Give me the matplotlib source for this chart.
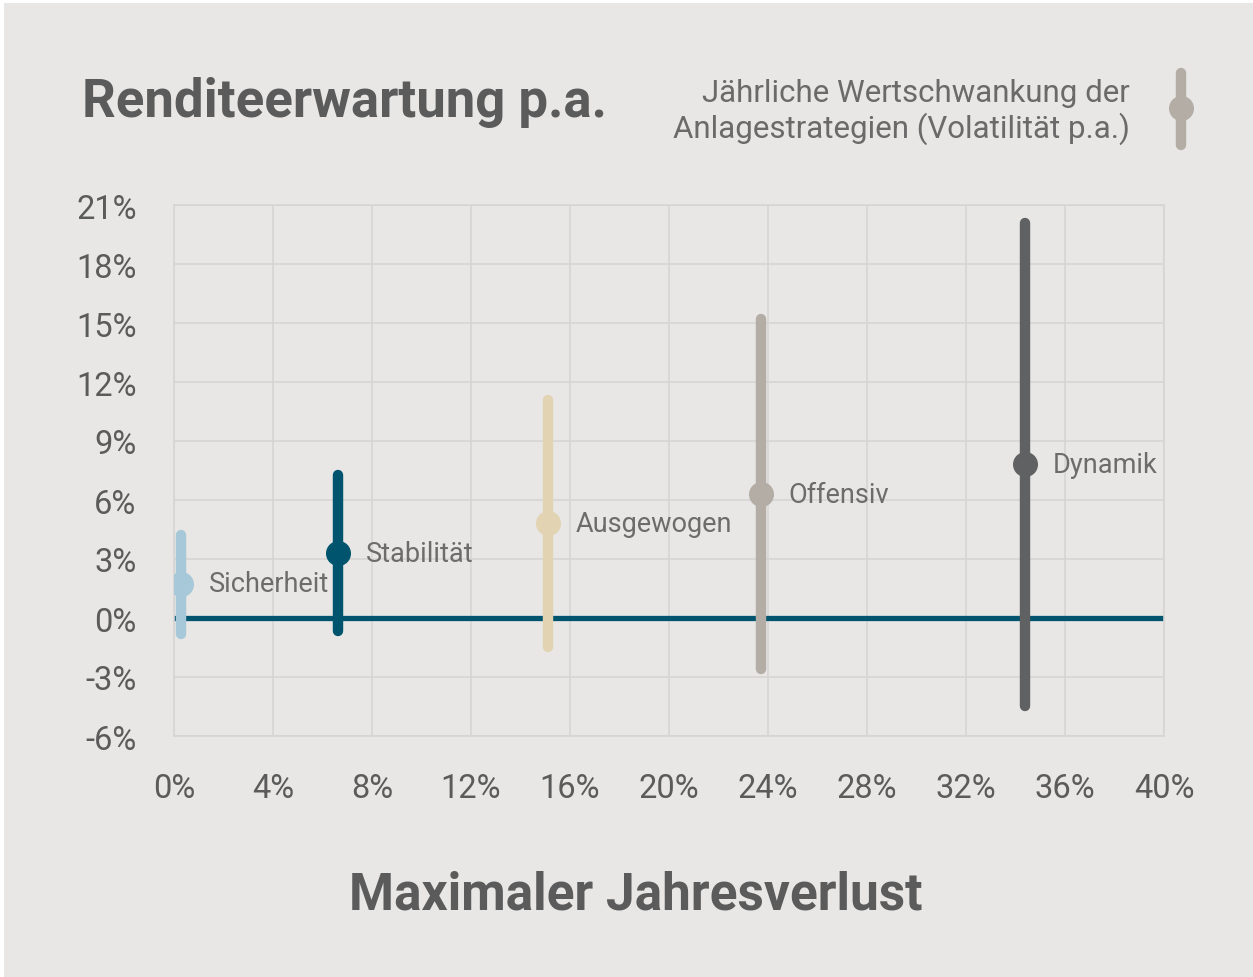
import matplotlib.pyplot as plt
from matplotlib.lines import Line2D
from matplotlib.patches import Rectangle
from matplotlib.ticker import FuncFormatter

# Daten
strategien = ['Sicherheit', 'Stabilität', 'Ausgewogen', 'Offensiv', 'Dynamik']
max_verlust = [0.28, 6.63, 15.1, 23.72, 34.39]      # x [%]
rendite = [1.73, 3.30, 4.83, 6.30, 7.83]             # y [%]
rendite_min = [-0.81, -0.66, -1.47, -2.59, -4.47]
rendite_max = [4.22, 7.27, 11.08, 15.19, 20.08]
farben = ['#a7c8d8', '#00546e', '#e2d4b3', '#b3ada6', '#5f6163']

x_ticks = list(range(0, 41, 4))
y_ticks = list(range(-6, 22, 3))

bg = '#e8e7e5'
grid_col = '#d6d5d3'
txt = '#5b5b5c'

plt.rcParams['font.family'] = ['Roboto', 'DejaVu Sans']

fig = plt.figure(figsize=(12.53, 9.78), dpi=100)
fig.patch.set_facecolor('white')
fig.add_artist(Rectangle((4 / 1253, 0), 1, 1 - 4 / 978, transform=fig.transFigure,
                         facecolor=bg, edgecolor='none', zorder=-10))

ax = fig.add_axes([174 / 1253, 1 - 737 / 978, 990 / 1253, 531 / 978])
ax.set_facecolor(bg)
ax.set_xlim(0, 40)
ax.set_ylim(-6, 21)
ax.set_xticks(x_ticks)
ax.set_yticks(y_ticks)
ax.xaxis.set_major_formatter(FuncFormatter(lambda v, p: f'{v:.0f}%'))
ax.yaxis.set_major_formatter(FuncFormatter(lambda v, p: f'{v:.0f}%'))
ax.grid(True, color=grid_col, lw=1.2)
ax.set_axisbelow(True)
for s in ax.spines.values():
    s.set_color(grid_col)
    s.set_linewidth(1.2)
ax.tick_params(length=0, labelsize=23.5, labelcolor=txt)
ax.tick_params(axis='y', pad=27)
ax.tick_params(axis='x', pad=26)

# Nulllinie
ax.axhline(0, color='#00546e', lw=3.8, zorder=2)

for i, name in enumerate(strategien):
    ax.plot([max_verlust[i], max_verlust[i]], [rendite_min[i], rendite_max[i]],
            color=farben[i], lw=7.5, solid_capstyle='round', zorder=3)
    ax.plot(max_verlust[i], rendite[i], 'o', color=farben[i], ms=17, zorder=4)
    ax.annotate(name, (max_verlust[i], rendite[i]), xytext=(20, 0),
                textcoords='offset points', ha='left', va='center',
                fontsize=19.5, color='#6e6c6b', zorder=5)

fig.text(636 / 1253, 1 - 910 / 978, 'Maximaler Jahresverlust', fontsize=37,
         fontweight='bold', color=txt, ha='center', va='baseline')

fig.text(82 / 1253, 1 - 117 / 978, 'Renditeerwartung p.a.', fontsize=38,
         fontweight='bold', color=txt, ha='left', va='baseline')

fig.text(1130 / 1253, 1 - 112 / 978,
         'Jährliche Wertschwankung der\nAnlagestrategien (Volatilität p.a.)',
         fontsize=22.5, color='#6b6969', ha='right', va='center',
         multialignment='right', linespacing=1.2)

# Legendensymbol
fig.add_artist(Line2D([1181 / 1253, 1181 / 1253], [1 - 74 / 978, 1 - 146 / 978],
                      transform=fig.transFigure, color='#b3ada6', lw=7.5,
                      solid_capstyle='round'))
fig.add_artist(Line2D([1181 / 1253], [1 - 109 / 978], transform=fig.transFigure,
                      marker='o', ms=17, color='#b3ada6'))

fig.savefig('out.png', dpi=100, facecolor=fig.get_facecolor())
